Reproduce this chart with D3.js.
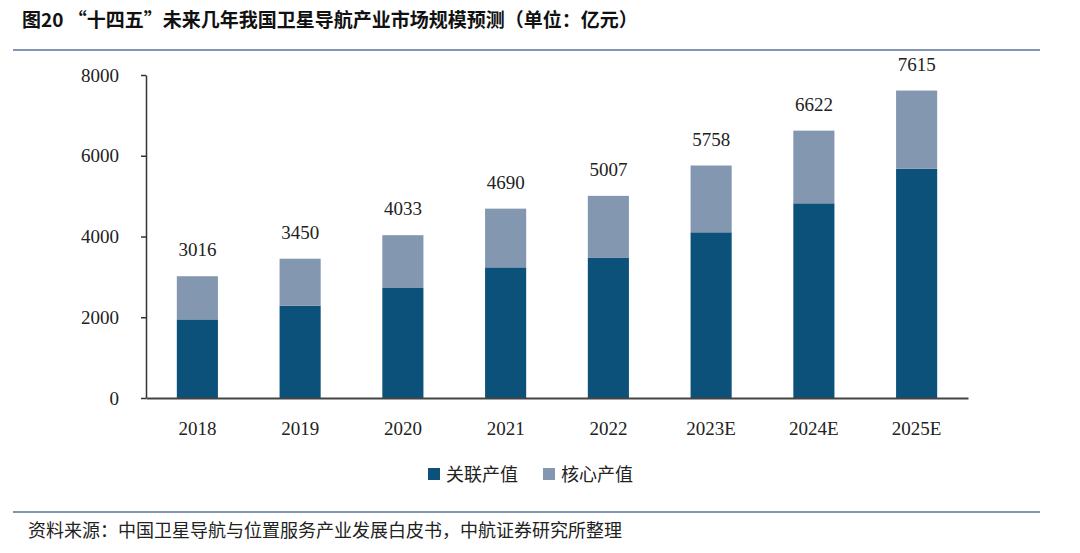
<!DOCTYPE html>
<html>
<head>
<meta charset="utf-8">
<script src="https://cdn.jsdelivr.net/npm/d3@7"></script>
<style>
  body { margin: 0; background: #fff; }
  svg { display: block; }
</style>
</head>
<body>
<script>
var width = 1080, height = 553;

// data
var years = ["2018", "2019", "2020", "2021", "2022", "2023E", "2024E", "2025E"];
var related = [1947, 2284, 2738, 3236, 3480, 4104, 4822, 5680];   // 关联产值
var core = [1069, 1166, 1295, 1454, 1527, 1654, 1800, 1935];      // 核心产值
var totals = [3016, 3450, 4033, 4690, 5007, 5758, 6622, 7615];
var yTicks = [0, 2000, 4000, 6000, 8000];
var seriesNames = ["关联产值", "核心产值"];
var colors = ["#0b5179", "#8497b0"];

var rows = years.map(function(y, i) {
  return { year: y, related: related[i], core: core[i], total: totals[i] };
});

var svg = d3.select("body").append("svg")
  .attr("width", width)
  .attr("height", height);

// title + rules
svg.append("text")
  .attr("x", 22).attr("y", 27)
  .style("font-family", "'Noto Sans CJK SC', sans-serif")
  .style("font-weight", "bold")
  .style("font-size", "19px")
  .attr("fill", "#111")
  .text("图20  “十四五”未来几年我国卫星导航产业市场规模预测（单位：亿元）");

svg.append("line")
  .attr("x1", 13).attr("x2", 1040).attr("y1", 50).attr("y2", 50)
  .attr("stroke", "#7f96b4").attr("stroke-width", 2);

svg.append("line")
  .attr("x1", 13).attr("x2", 1040).attr("y1", 512).attr("y2", 512)
  .attr("stroke", "#7f96b4").attr("stroke-width", 2);

svg.append("text")
  .attr("x", 28).attr("y", 537)
  .style("font-family", "'Noto Sans CJK SC', sans-serif")
  .style("font-size", "18px")
  .attr("fill", "#222")
  .text("资料来源：中国卫星导航与位置服务产业发展白皮书，中航证券研究所整理");

var x = d3.scaleBand()
  .domain(years)
  .range([146, 968])
  .paddingInner(0.6)
  .paddingOuter(0.3);

var y = d3.scaleLinear()
  .domain([0, 8000])
  .range([398, 75]);

var stack = d3.stack().keys(["related", "core"]);
var series = stack(rows);

svg.append("g")
  .selectAll("g")
  .data(series)
  .enter()
  .append("g")
  .attr("fill", function(d, i) { return colors[i]; })
  .selectAll("rect")
  .data(function(d) { return d; })
  .enter()
  .append("rect")
  .attr("x", function(d) { return x(d.data.year); })
  .attr("width", x.bandwidth())
  .attr("y", function(d) { return y(d[1]); })
  .attr("height", function(d) { return y(d[0]) - y(d[1]); });

// total labels
svg.append("g")
  .selectAll("text")
  .data(rows)
  .enter()
  .append("text")
  .attr("x", function(d) { return x(d.year) + x.bandwidth() / 2; })
  .attr("y", function(d) { return y(d.total) - 20; })
  .attr("text-anchor", "middle")
  .style("font-family", "'Liberation Serif', serif")
  .style("font-size", "19px")
  .attr("fill", "#222")
  .text(function(d) { return d.total; });

// y axis
var yAxis = svg.append("g")
  .attr("transform", "translate(146,0)")
  .call(d3.axisLeft(y).tickValues(yTicks).tickFormat(d3.format("d"))
    .tickSize(5).tickSizeOuter(0).tickPadding(22));
yAxis.selectAll("text")
  .style("font-family", "'Liberation Serif', serif")
  .style("font-size", "19px")
  .attr("fill", "#222");
yAxis.selectAll("line, path").attr("stroke", "#333").attr("stroke-width", 1.5);

// x axis
var xAxis = svg.append("g")
  .attr("transform", "translate(0,398)")
  .call(d3.axisBottom(x).tickSize(0).tickPadding(24));
xAxis.select(".domain").attr("stroke", "#444").attr("stroke-width", 2);
xAxis.selectAll("text")
  .style("font-family", "'Liberation Serif', serif")
  .style("font-size", "19px")
  .attr("fill", "#222");

// legend
var legendX = [428, 543];
var legend = svg.append("g")
  .selectAll("g")
  .data(seriesNames)
  .enter()
  .append("g")
  .attr("transform", function(d, i) { return "translate(" + legendX[i] + ",468)"; });

legend.append("rect")
  .attr("width", 12).attr("height", 12)
  .attr("fill", function(d, i) { return colors[i]; });

legend.append("text")
  .attr("x", 18).attr("y", 13)
  .style("font-family", "'Noto Sans CJK SC', sans-serif")
  .style("font-size", "18px")
  .attr("fill", "#222")
  .text(function(d) { return d; });
</script>
</body>
</html>
